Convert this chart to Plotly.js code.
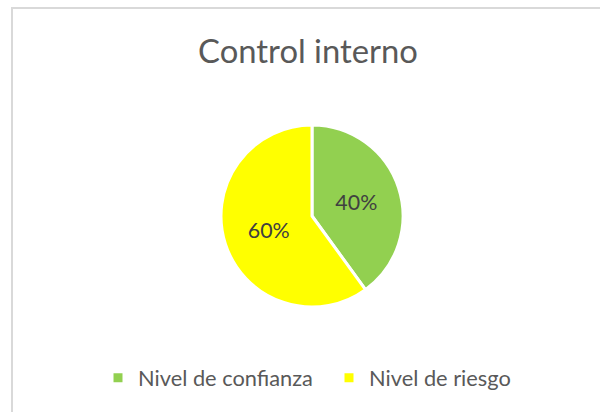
<!DOCTYPE html>
<html>
<head>
<meta charset="utf-8">
<script src="https://cdn.plot.ly/plotly-3.0.1.min.js"></script>
<style>html,body{margin:0;padding:0;background:#fff;}#chart{width:600px;height:412px;}</style>
</head>
<body>
<div id="chart"></div>
<script>
const categories = ["Nivel de confianza", "Nivel de riesgo"];
const values = [40, 60];
const sliceColors = ["#92D050", "#FFFF00"];
const chartTitle = "Control interno";

const FAMILY = "Lato";
const FONT = "Lato, 'Open Sans', sans-serif";

// calibrate font size so a string matches a target pixel width
function fitSize(str, targetW) {
  const ctx = document.createElement("canvas").getContext("2d");
  ctx.font = "100px " + FAMILY;
  const w = ctx.measureText(str).width;
  return Math.round(100 * targetW / w * 10) / 10;
}
const titleSize = fitSize(chartTitle, 220);
const legendSize = fitSize(categories[0], 175);
const labelSize = fitSize("40%", 42);

const data = [{
  type: "pie",
  labels: categories,
  values: values,
  sort: false,
  direction: "clockwise",
  rotation: 0,
  marker: {colors: sliceColors, line: {color: "#ffffff", width: 3}},
  textinfo: "percent",
  texttemplate: "%{percent:.0%}",
  textposition: "inside",
  insidetextorientation: "horizontal",
  textfont: {family: FONT, size: labelSize, color: "#404040"},
  hoverinfo: "none",
  domain: {x: [221/600, 403/600], y: [105/412, 287/412]}
}];
const layout = {
  width: 600, height: 412,
  margin: {l: 0, r: 0, t: 0, b: 0},
  paper_bgcolor: "#ffffff",
  title: {text: chartTitle, font: {family: FONT, size: titleSize, color: "#595959"},
          x: 308/600, xanchor: "center", y: 1 - 52/412, yanchor: "middle"},
  showlegend: true,
  legend: {orientation: "h", x: 98/600, xanchor: "left", y: 1 - 378/412, yanchor: "middle",
           entrywidth: 186, entrywidthmode: "pixels",
           font: {family: FONT, size: legendSize, color: "#595959"}, traceorder: "normal"},
  shapes: [{type: "rect", xref: "paper", yref: "paper", x0: 12/600, x1: 1.02, y0: -0.02, y1: 1 - 8/412,
            line: {color: "#d9d9d9", width: 2}}]
};
Plotly.newPlot("chart", data, layout, {displayModeBar: false, staticPlot: true});
</script>
</body>
</html>
